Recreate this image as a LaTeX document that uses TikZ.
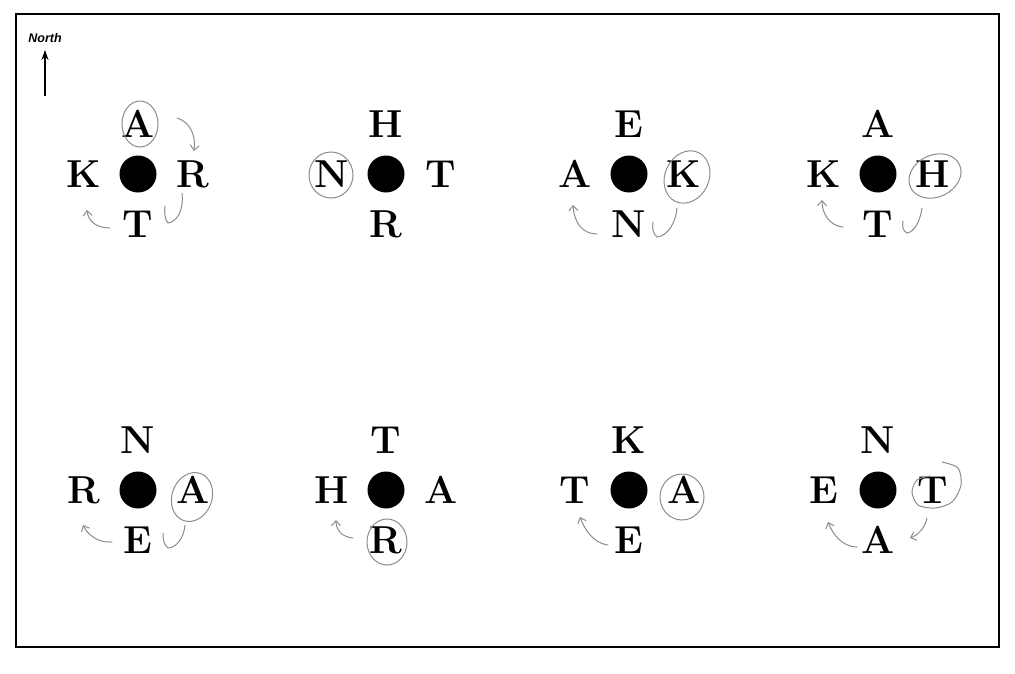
\documentclass[tikz,border=0pt]{standalone}
\usepackage{fontspec}
\newfontfamily\northfont{Liberation Sans}
\usetikzlibrary{arrows.meta}
\tikzset{
  letter/.style={font=\fontsize{39}{39}\selectfont\bfseries, inner sep=0pt},
  bigdot/.style={circle, fill=black, minimum size=37pt, inner sep=0pt},
  pencil/.style={draw=black!45, line width=1pt, line cap=round},
  pencilarrow/.style={pencil, -{Straight Barb[length=5pt,width=9pt]}},
  frame/.style={draw=black, line width=1.8pt},
}
\newcommand\compassset[7]{%
  \node[bigdot] (#1) at (#2,#3) {};
  \node[letter] (#1n) at (#2,#3-50) {#4};
  \node[letter] (#1w) at (#2-54,#3) {#5};
  \node[letter] (#1e) at (#2+55,#3) {#6};
  \node[letter] (#1s) at (#2,#3+50) {#7};
}
\begin{document}
\begin{tikzpicture}[x=1pt,y=-1pt]
\useasboundingbox (0,0) rectangle (1015,673);
\draw[frame] (16,14) rectangle (999,647);

% north arrow
\node[font=\northfont\bfseries\itshape\fontsize{12.5}{12.5}\selectfont, inner sep=0pt] (north) at (45,38) {North};
\coordinate (nbase) at (45,96);
\draw[line width=1.4pt, -{Stealth[length=10pt,width=7pt]}] (nbase) -- (45,50);

% compass groups
\compassset{a}{138}{174}{A}{K}{R}{T}
\compassset{b}{386}{174}{H}{N}{T}{R}
\compassset{c}{629}{174}{E}{A}{K}{N}
\compassset{d}{878}{174}{A}{K}{H}{T}
\compassset{e}{138}{490}{N}{R}{A}{E}
\compassset{f}{386}{490}{T}{H}{A}{R}
\compassset{g}{629}{490}{K}{T}{A}{E}
\compassset{h}{878}{490}{N}{E}{T}{A}

% pencil annotations
% group a
\draw[pencil] (140,124) ellipse [x radius=18, y radius=23];
\draw[pencilarrow] (177,118) .. controls (190,122) and (196,135) .. (194,151);
\draw[pencil] (182,193) .. controls (184,212) and (176,222) .. (168,223) .. controls (165,220) and (164,212) .. (165,206);
\draw[pencilarrow] (110,228) .. controls (95,228) and (88,220) .. (87,210);
% group b
\draw[pencil] (331,175) ellipse [x radius=22, y radius=23];
% group c
\draw[pencil, rotate around={-25:(687,177)}] (687,177) ellipse [x radius=22, y radius=27];
\draw[pencil] (677,208) .. controls (676,222) and (668,236) .. (657,237) .. controls (653,234) and (652,228) .. (653,222);
\draw[pencilarrow] (597,234) .. controls (582,234) and (574,222) .. (573,205);
% group d
\draw[pencil, rotate around={25:(935,176)}] (935,176) ellipse [x radius=27, y radius=21];
\draw[pencil] (922,208) .. controls (920,222) and (914,232) .. (907,233) .. controls (903,231) and (902,227) .. (903,221);
\draw[pencilarrow] (843,227) .. controls (830,226) and (822,214) .. (822,200);
% group e
\draw[pencil, rotate around={-20:(192,497)}] (192,497) ellipse [x radius=20, y radius=25];
\draw[pencil] (185,525) .. controls (184,538) and (176,548) .. (168,548) .. controls (164,545) and (163,540) .. (163,533);
\draw[pencilarrow] (112,542) .. controls (98,543) and (88,535) .. (83,525);
% group f
\draw[pencil] (387,542) ellipse [x radius=20, y radius=23];
\draw[pencilarrow] (353,538) .. controls (342,537) and (336,530) .. (336,520);
% group g
\draw[pencil] (682,497) ellipse [x radius=22, y radius=23];
\draw[pencilarrow] (608,545) .. controls (593,543) and (585,530) .. (580,517);
% group h
\draw[pencil] plot[smooth] coordinates {(942,462) (958,468) (961,485) (952,502) (935,508) (918,505) (912,492) (917,480) (930,476)};
\draw[pencilarrow] (927,518) .. controls (925,528) and (918,535) .. (910,538);
\draw[pencilarrow] (857,547) .. controls (843,547) and (833,535) .. (828,522);
\end{tikzpicture}
\end{document}
